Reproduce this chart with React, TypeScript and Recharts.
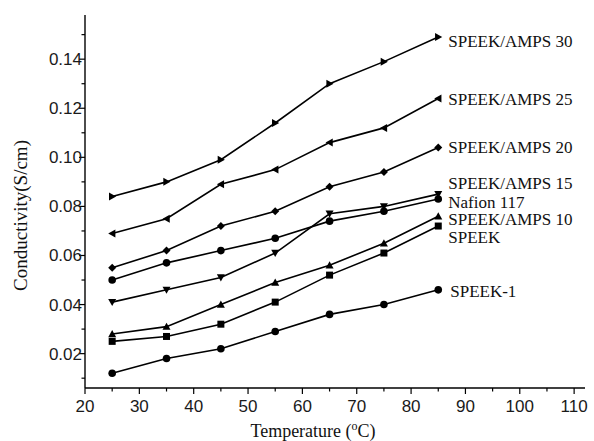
import React from "react"
import { LineChart, Line, XAxis, YAxis } from "recharts"

const temps = [25, 35, 45, 55, 65, 75, 85]
const amps30 = [0.084, 0.090, 0.099, 0.114, 0.130, 0.139, 0.149]
const amps25 = [0.069, 0.075, 0.089, 0.095, 0.106, 0.112, 0.124]
const amps20 = [0.055, 0.062, 0.072, 0.078, 0.088, 0.094, 0.104]
const amps15 = [0.041, 0.046, 0.051, 0.061, 0.077, 0.080, 0.085]
const nafion = [0.050, 0.057, 0.062, 0.067, 0.074, 0.078, 0.083]
const amps10 = [0.028, 0.031, 0.040, 0.049, 0.056, 0.065, 0.076]
const speek = [0.025, 0.027, 0.032, 0.041, 0.052, 0.061, 0.072]
const speek1 = [0.012, 0.018, 0.022, 0.029, 0.036, 0.040, 0.046]

const xTicks = [20, 25, 30, 35, 40, 45, 50, 55, 60, 65, 70, 75, 80, 85, 90, 95, 100, 105, 110]
const yTicks = [0.01, 0.02, 0.03, 0.04, 0.05, 0.06, 0.07, 0.08, 0.09, 0.10, 0.11, 0.12, 0.13, 0.14, 0.15]

const series = [
  { key: "a30", name: "SPEEK/AMPS 30", values: amps30 },
  { key: "a25", name: "SPEEK/AMPS 25", values: amps25 },
  { key: "a20", name: "SPEEK/AMPS 20", values: amps20 },
  { key: "a15", name: "SPEEK/AMPS 15", values: amps15 },
  { key: "naf", name: "Nafion 117", values: nafion },
  { key: "a10", name: "SPEEK/AMPS 10", values: amps10 },
  { key: "sp", name: "SPEEK", values: speek },
  { key: "sp1", name: "SPEEK-1", values: speek1 },
]

// marker shape + label nudge per series
const look: Record<string, { shape: string; dx: number; dy: number }> = {
  a30: { shape: "right", dx: 10, dy: 4 },
  a25: { shape: "left", dx: 10, dy: 1 },
  a20: { shape: "diamond", dx: 10, dy: 0 },
  a15: { shape: "down", dx: 10, dy: -11 },
  naf: { shape: "circle", dx: 10, dy: 3 },
  a10: { shape: "up", dx: 10, dy: 3 },
  sp: { shape: "square", dx: 10, dy: 11 },
  sp1: { shape: "circle", dx: 12, dy: 2 },
}

const data = temps.map((t, i) => {
  const row: Record<string, number> = { t }
  series.forEach((s) => { row[s.key] = s.values[i] })
  return row
})

const SANS = "'Liberation Sans', Arial, sans-serif"
const SERIF = "'Liberation Serif', 'Times New Roman', serif"

function Marker({ cx, cy, shape }: { cx: number; cy: number; shape: string }) {
  const r = 4
  let d = ""
  if (shape === "up") d = `M${cx},${cy - r} L${cx + r},${cy + r * 0.8} L${cx - r},${cy + r * 0.8} Z`
  else if (shape === "down") d = `M${cx},${cy + r} L${cx + r},${cy - r * 0.8} L${cx - r},${cy - r * 0.8} Z`
  else if (shape === "right") d = `M${cx + r},${cy} L${cx - r * 0.8},${cy - r} L${cx - r * 0.8},${cy + r} Z`
  else if (shape === "left") d = `M${cx - r},${cy} L${cx + r * 0.8},${cy - r} L${cx + r * 0.8},${cy + r} Z`
  else if (shape === "diamond") d = `M${cx},${cy - r} L${cx + r},${cy} L${cx},${cy + r} L${cx - r},${cy} Z`
  else if (shape === "square") d = `M${cx - 3.5},${cy - 3.5} h7 v7 h-7 Z`
  if (shape === "circle") return <circle cx={cx} cy={cy} r={3.8} fill="#000" />
  return <path d={d} fill="#000" />
}

function XTick(props: any) {
  const { x, y, payload } = props
  const major = payload.value % 10 === 0
  return (
    <g>
      <line x1={x} x2={x} y1={y} y2={y + (major ? 6 : 3.5)} stroke="#000" strokeWidth={1.2} />
      {major && (
        <text x={x} y={y + 24} textAnchor="middle" fontFamily={SANS} fontSize={17} fill="#1a1a1a">
          {payload.value}
        </text>
      )}
    </g>
  )
}

function YTick(props: any) {
  const { x, y, payload } = props
  const major = Math.round(payload.value * 100) % 2 === 0
  return (
    <g>
      <line x1={x - (major ? 6 : 3.5)} x2={x} y1={y} y2={y} stroke="#000" strokeWidth={1.2} />
      {major && (
        <text x={x - 3} y={y + 6} textAnchor="end" fontFamily={SANS} fontSize={17} fill="#1a1a1a">
          {payload.value.toFixed(2)}
        </text>
      )}
    </g>
  )
}

export default function App() {
  return (
    <div style={{ position: "absolute", left: 0, top: 0, background: "#fff" }}>
      <LineChart width={594} height={441} data={data} margin={{ top: 15, right: 9, bottom: 0, left: 0 }}>
        <XAxis
          dataKey="t" type="number" domain={[20, 112]} ticks={xTicks} interval={0}
          allowDataOverflow tickSize={0} tickMargin={0} tick={<XTick />} height={53}
          axisLine={{ stroke: "#000", strokeWidth: 1.4 }}
          label={(p: any) => {
            const vb = p.viewBox || { x: 85, y: 388, width: 500 }
            return (
              <text x={vb.x + vb.width / 2 - 22} y={vb.y + 49} textAnchor="middle" fontFamily={SERIF} fontSize={18} fill="#111">
                <tspan>Temperature (</tspan>
                <tspan dy={-7} fontSize={12}>o</tspan>
                <tspan dy={7}>C)</tspan>
              </text>
            )
          }}
        />
        <XAxis xAxisId="top" orientation="top" dataKey="t" type="number" domain={[20, 112]} height={0} tick={false} tickLine={false} axisLine={{ stroke: "#000", strokeWidth: 1.4 }} />
        <YAxis
          type="number" domain={[0.006, 0.158]} ticks={yTicks} interval={0} allowDataOverflow
          tickSize={0} tickMargin={0} tick={<YTick />} width={85}
          axisLine={{ stroke: "#000", strokeWidth: 1.4 }}
          label={(p: any) => {
            const vb = p.viewBox || { x: 0, y: 15, height: 373 }
            const cy = vb.y + vb.height / 2 + 14
            return (
              <text x={20} y={cy} transform={`rotate(-90 20 ${cy})`} textAnchor="middle" dominantBaseline="central" fontFamily={SERIF} fontSize={19} fill="#111">
                Conductivity(S/cm)
              </text>
            )
          }}
        />
        <YAxis yAxisId="right" orientation="right" type="number" domain={[0.006, 0.158]} width={0} tick={false} tickLine={false} axisLine={{ stroke: "#000", strokeWidth: 1.4 }} />
        {series.map((s) => (
          <Line
            key={s.key}
            dataKey={s.key}
            stroke="#000"
            strokeWidth={1.6}
            isAnimationActive={false}
            dot={(p: any) => <Marker key={`${s.key}-${p.index}`} cx={p.cx} cy={p.cy} shape={look[s.key].shape} />}
            activeDot={false}
            label={(p: any) =>
              p.index === temps.length - 1 ? (
                <text key={`${s.key}-lbl`} x={p.x + look[s.key].dx} y={p.y + look[s.key].dy} dominantBaseline="central" fontFamily={SERIF} fontSize={17} fill="#111">
                  {s.name}
                </text>
              ) : null
            }
          />
        ))}
      </LineChart>
    </div>
  )
}
